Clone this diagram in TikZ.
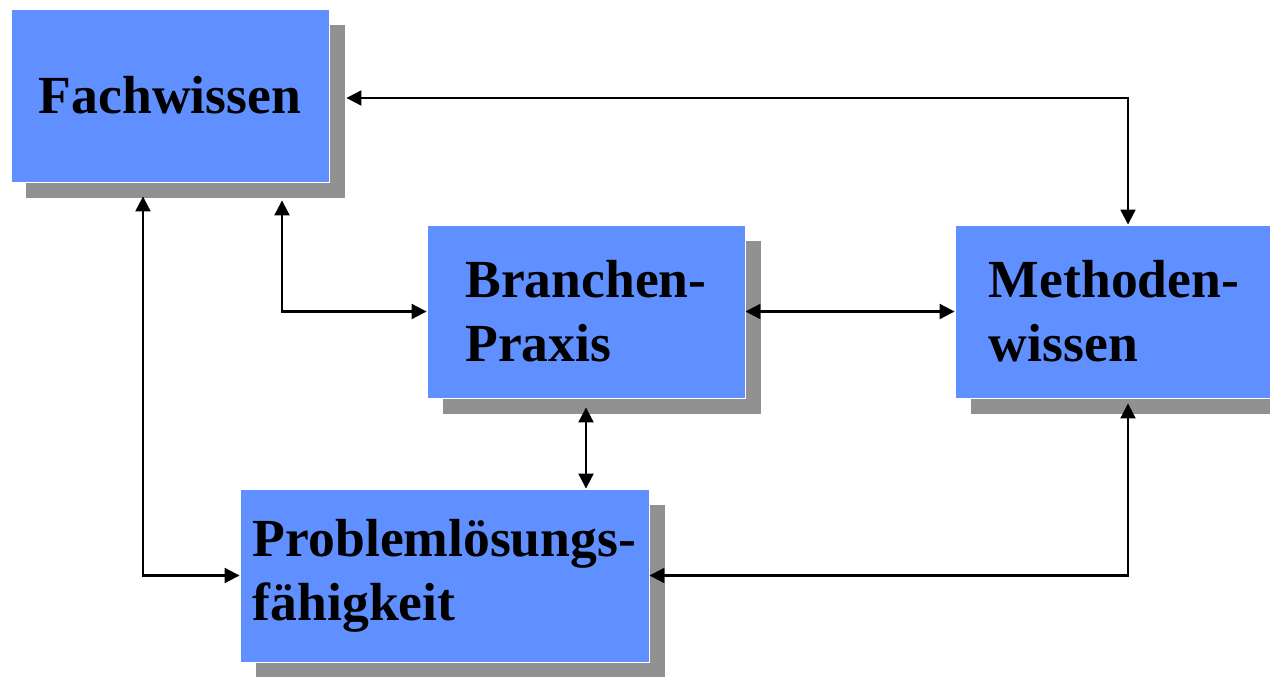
\documentclass[tikz,border=0pt]{standalone}
\usepackage{fontspec}
\setmainfont{Liberation Serif}
\usetikzlibrary{arrows.meta, positioning, shadows}

\definecolor{boxblue}{RGB}{96,143,255}
\definecolor{shadowgray}{RGB}{145,145,145}

\begin{document}
\begin{tikzpicture}[auto, >={Triangle[length=0.3cm,width=0.3cm]},
    block/.style={rectangle, fill=boxblue, draw=white, line width=0.5pt,
      minimum width=6.36cm, minimum height=3.46cm, align=left,
      font=\bfseries\fontsize{30.5}{36.5}\selectfont,
      drop shadow={shadow xshift=0.31cm, shadow yshift=-0.32cm, fill=shadowgray, draw=none, opacity=1}},
    link/.style={<->, line width=1.2pt}]
    \useasboundingbox (0,0) rectangle (25.4,-13.54);

    % Nodes
    \node [block] (fach) at (3.40,-1.91) {Fachwissen};
    \node [block] (bran) at (11.72,-6.23) {Branchen-\\Praxis};
    \node [block, right of=bran, node distance=10.56cm] (meth) {Methoden-\\wissen};
    \node [block, minimum width=8.18cm] (prob) at (8.89,-11.51) {Problemlösungs-\\fähigkeit};

    % Arrows
    \draw [link] ([xshift=0.34cm,yshift=-0.05cm]fach.east) -| ([xshift=0.28cm]meth.north);
    \draw [link] ([xshift=-0.54cm,yshift=-0.28cm]fach.south) |- (prob.west);
    \draw [link] ([xshift=2.24cm,yshift=-0.36cm]fach.south) |- (bran.west);
    \draw [link] (bran.east) -- (meth.west);
    \draw [link] ([yshift=-0.18cm]bran.south) -- (bran.south |- prob.north);
    \draw [link] ([xshift=0.28cm,yshift=-0.1cm]meth.south) |- (prob.east);

\end{tikzpicture}
\end{document}
